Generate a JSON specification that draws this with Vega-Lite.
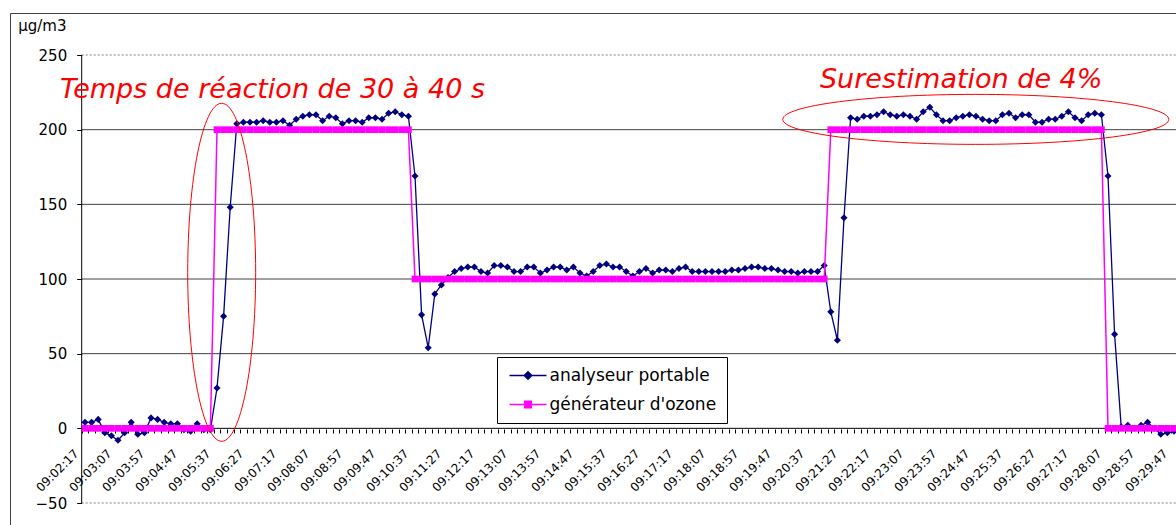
{
  "$schema": "https://vega.github.io/schema/vega-lite/v6.json",
  "width": 1166,
  "height": 512,
  "autosize": {"type": "none"},
  "padding": {"left": 10, "top": 13, "right": 0, "bottom": 0},
  "background": "white",
  "config": {"view": {"stroke": "#404040", "strokeWidth": 1}, "font": "DejaVu Sans"},
  "resolve": {"axis": {"x": "independent", "y": "independent"}},
  "datasets": {
    "mesures": [
      {"i":0,"analyseur":4,"generateur":0},{"i":1,"analyseur":4,"generateur":0},{"i":2,"analyseur":6,"generateur":0},{"i":3,"analyseur":-3,"generateur":0},{"i":4,"analyseur":-5,"generateur":0},
      {"i":5,"analyseur":-8,"generateur":0},{"i":6,"analyseur":-3,"generateur":0},{"i":7,"analyseur":4,"generateur":0},{"i":8,"analyseur":-4,"generateur":0},{"i":9,"analyseur":-3,"generateur":0},
      {"i":10,"analyseur":7,"generateur":0},{"i":11,"analyseur":6,"generateur":0},{"i":12,"analyseur":4,"generateur":0},{"i":13,"analyseur":3,"generateur":0},{"i":14,"analyseur":3,"generateur":0},
      {"i":15,"analyseur":-1,"generateur":0},{"i":16,"analyseur":-2,"generateur":0},{"i":17,"analyseur":3,"generateur":0},{"i":18,"analyseur":-1,"generateur":0},{"i":19,"analyseur":-1,"generateur":0},
      {"i":20,"analyseur":27,"generateur":200},{"i":21,"analyseur":75,"generateur":200},{"i":22,"analyseur":148,"generateur":200},{"i":23,"analyseur":204,"generateur":200},{"i":24,"analyseur":205,"generateur":200},
      {"i":25,"analyseur":205,"generateur":200},{"i":26,"analyseur":205,"generateur":200},{"i":27,"analyseur":206,"generateur":200},{"i":28,"analyseur":205,"generateur":200},{"i":29,"analyseur":205,"generateur":200},
      {"i":30,"analyseur":206,"generateur":200},{"i":31,"analyseur":203,"generateur":200},{"i":32,"analyseur":207,"generateur":200},{"i":33,"analyseur":209,"generateur":200},{"i":34,"analyseur":210,"generateur":200},
      {"i":35,"analyseur":210,"generateur":200},{"i":36,"analyseur":206,"generateur":200},{"i":37,"analyseur":209,"generateur":200},{"i":38,"analyseur":208,"generateur":200},{"i":39,"analyseur":204,"generateur":200},
      {"i":40,"analyseur":206,"generateur":200},{"i":41,"analyseur":206,"generateur":200},{"i":42,"analyseur":205,"generateur":200},{"i":43,"analyseur":208,"generateur":200},{"i":44,"analyseur":208,"generateur":200},
      {"i":45,"analyseur":207,"generateur":200},{"i":46,"analyseur":211,"generateur":200},{"i":47,"analyseur":212,"generateur":200},{"i":48,"analyseur":210,"generateur":200},{"i":49,"analyseur":209,"generateur":200},
      {"i":50,"analyseur":169,"generateur":100},{"i":51,"analyseur":76,"generateur":100},{"i":52,"analyseur":54,"generateur":100},{"i":53,"analyseur":90,"generateur":100},{"i":54,"analyseur":96,"generateur":100},
      {"i":55,"analyseur":101,"generateur":100},{"i":56,"analyseur":105,"generateur":100},{"i":57,"analyseur":107,"generateur":100},{"i":58,"analyseur":108,"generateur":100},{"i":59,"analyseur":108,"generateur":100},
      {"i":60,"analyseur":105,"generateur":100},{"i":61,"analyseur":104,"generateur":100},{"i":62,"analyseur":109,"generateur":100},{"i":63,"analyseur":109,"generateur":100},{"i":64,"analyseur":108,"generateur":100},
      {"i":65,"analyseur":105,"generateur":100},{"i":66,"analyseur":105,"generateur":100},{"i":67,"analyseur":108,"generateur":100},{"i":68,"analyseur":108,"generateur":100},{"i":69,"analyseur":104,"generateur":100},
      {"i":70,"analyseur":106,"generateur":100},{"i":71,"analyseur":108,"generateur":100},{"i":72,"analyseur":108,"generateur":100},{"i":73,"analyseur":106,"generateur":100},{"i":74,"analyseur":108,"generateur":100},
      {"i":75,"analyseur":104,"generateur":100},{"i":76,"analyseur":102,"generateur":100},{"i":77,"analyseur":105,"generateur":100},{"i":78,"analyseur":109,"generateur":100},{"i":79,"analyseur":110,"generateur":100},
      {"i":80,"analyseur":108,"generateur":100},{"i":81,"analyseur":108,"generateur":100},{"i":82,"analyseur":105,"generateur":100},{"i":83,"analyseur":102,"generateur":100},{"i":84,"analyseur":105,"generateur":100},
      {"i":85,"analyseur":107,"generateur":100},{"i":86,"analyseur":104,"generateur":100},{"i":87,"analyseur":106,"generateur":100},{"i":88,"analyseur":106,"generateur":100},{"i":89,"analyseur":105,"generateur":100},
      {"i":90,"analyseur":107,"generateur":100},{"i":91,"analyseur":108,"generateur":100},{"i":92,"analyseur":105,"generateur":100},{"i":93,"analyseur":105,"generateur":100},{"i":94,"analyseur":105,"generateur":100},
      {"i":95,"analyseur":105,"generateur":100},{"i":96,"analyseur":105,"generateur":100},{"i":97,"analyseur":105,"generateur":100},{"i":98,"analyseur":106,"generateur":100},{"i":99,"analyseur":106,"generateur":100},
      {"i":100,"analyseur":107,"generateur":100},{"i":101,"analyseur":108,"generateur":100},{"i":102,"analyseur":108,"generateur":100},{"i":103,"analyseur":107,"generateur":100},{"i":104,"analyseur":107,"generateur":100},
      {"i":105,"analyseur":106,"generateur":100},{"i":106,"analyseur":105,"generateur":100},{"i":107,"analyseur":105,"generateur":100},{"i":108,"analyseur":104,"generateur":100},{"i":109,"analyseur":105,"generateur":100},
      {"i":110,"analyseur":105,"generateur":100},{"i":111,"analyseur":105,"generateur":100},{"i":112,"analyseur":109,"generateur":100},{"i":113,"analyseur":78,"generateur":200},{"i":114,"analyseur":59,"generateur":200},
      {"i":115,"analyseur":141,"generateur":200},{"i":116,"analyseur":208,"generateur":200},{"i":117,"analyseur":207,"generateur":200},{"i":118,"analyseur":209,"generateur":200},{"i":119,"analyseur":209,"generateur":200},
      {"i":120,"analyseur":210,"generateur":200},{"i":121,"analyseur":212,"generateur":200},{"i":122,"analyseur":210,"generateur":200},{"i":123,"analyseur":209,"generateur":200},{"i":124,"analyseur":210,"generateur":200},
      {"i":125,"analyseur":209,"generateur":200},{"i":126,"analyseur":207,"generateur":200},{"i":127,"analyseur":212,"generateur":200},{"i":128,"analyseur":215,"generateur":200},{"i":129,"analyseur":210,"generateur":200},
      {"i":130,"analyseur":206,"generateur":200},{"i":131,"analyseur":206,"generateur":200},{"i":132,"analyseur":208,"generateur":200},{"i":133,"analyseur":209,"generateur":200},{"i":134,"analyseur":210,"generateur":200},
      {"i":135,"analyseur":209,"generateur":200},{"i":136,"analyseur":207,"generateur":200},{"i":137,"analyseur":206,"generateur":200},{"i":138,"analyseur":206,"generateur":200},{"i":139,"analyseur":210,"generateur":200},
      {"i":140,"analyseur":211,"generateur":200},{"i":141,"analyseur":208,"generateur":200},{"i":142,"analyseur":210,"generateur":200},{"i":143,"analyseur":210,"generateur":200},{"i":144,"analyseur":205,"generateur":200},
      {"i":145,"analyseur":205,"generateur":200},{"i":146,"analyseur":207,"generateur":200},{"i":147,"analyseur":207,"generateur":200},{"i":148,"analyseur":209,"generateur":200},{"i":149,"analyseur":212,"generateur":200},
      {"i":150,"analyseur":208,"generateur":200},{"i":151,"analyseur":206,"generateur":200},{"i":152,"analyseur":210,"generateur":200},{"i":153,"analyseur":211,"generateur":200},{"i":154,"analyseur":210,"generateur":200},
      {"i":155,"analyseur":169,"generateur":0},{"i":156,"analyseur":63,"generateur":0},{"i":157,"analyseur":1,"generateur":0},{"i":158,"analyseur":2,"generateur":0},{"i":159,"analyseur":0,"generateur":0},
      {"i":160,"analyseur":2,"generateur":0},{"i":161,"analyseur":4,"generateur":0},{"i":162,"analyseur":0,"generateur":0},{"i":163,"analyseur":-4,"generateur":0},{"i":164,"analyseur":-3,"generateur":0},
      {"i":165,"analyseur":-2,"generateur":0}
    ]
  },
  "layer": [
    {
      "data": {"values": [{"g": 200}, {"g": 150}, {"g": 100}, {"g": 50}]},
      "mark": {"type": "rule", "color": "#404040", "strokeWidth": 1},
      "encoding": {
        "y": {"field": "g", "type": "quantitative", "scale": {"domain": [-64.73, 278.13], "nice": false, "zero": false}, "axis": null},
        "x": {"datum": -0.5, "type": "quantitative", "scale": {"domain": [-11.364, 165.303], "nice": false, "zero": false}, "axis": null},
        "x2": {"datum": 170}
      }
    },
    {
      "data": {"values": [{"g": 250}, {"g": -50}]},
      "mark": {"type": "rule", "color": "#808080", "strokeWidth": 1, "strokeDash": [2, 2]},
      "encoding": {
        "y": {"field": "g", "type": "quantitative", "scale": {"domain": [-64.73, 278.13], "nice": false, "zero": false}, "axis": null},
        "x": {"datum": -0.5, "type": "quantitative", "scale": {"domain": [-11.364, 165.303], "nice": false, "zero": false}, "axis": null},
        "x2": {"datum": 170}
      }
    },
    {
      "data": {"values": [{"g": 0}]},
      "mark": {"type": "rule", "color": "#000000", "strokeWidth": 1},
      "encoding": {
        "y": {"field": "g", "type": "quantitative", "scale": {"domain": [-64.73, 278.13], "nice": false, "zero": false}, "axis": null},
        "x": {
          "datum": -0.5, "type": "quantitative", "scale": {"domain": [-11.364, 165.303], "nice": false, "zero": false},
          "axis": {
            "orient": "bottom", "offset": -96, "title": null, "domain": false, "grid": false, "labels": false,
            "values": [-0.5,0.5,1.5,2.5,3.5,4.5,5.5,6.5,7.5,8.5,9.5,10.5,11.5,12.5,13.5,14.5,15.5,16.5,17.5,18.5,19.5,20.5,21.5,22.5,23.5,24.5,25.5,26.5,27.5,28.5,29.5,30.5,31.5,32.5,33.5,34.5,35.5,36.5,37.5,38.5,39.5,40.5,41.5,42.5,43.5,44.5,45.5,46.5,47.5,48.5,49.5,50.5,51.5,52.5,53.5,54.5,55.5,56.5,57.5,58.5,59.5,60.5,61.5,62.5,63.5,64.5,65.5,66.5,67.5,68.5,69.5,70.5,71.5,72.5,73.5,74.5,75.5,76.5,77.5,78.5,79.5,80.5,81.5,82.5,83.5,84.5,85.5,86.5,87.5,88.5,89.5,90.5,91.5,92.5,93.5,94.5,95.5,96.5,97.5,98.5,99.5,100.5,101.5,102.5,103.5,104.5,105.5,106.5,107.5,108.5,109.5,110.5,111.5,112.5,113.5,114.5,115.5,116.5,117.5,118.5,119.5,120.5,121.5,122.5,123.5,124.5,125.5,126.5,127.5,128.5,129.5,130.5,131.5,132.5,133.5,134.5,135.5,136.5,137.5,138.5,139.5,140.5,141.5,142.5,143.5,144.5,145.5,146.5,147.5,148.5,149.5,150.5,151.5,152.5,153.5,154.5,155.5,156.5,157.5,158.5,159.5,160.5,161.5,162.5,163.5,164.5,165.5],
            "tickSize": 4, "tickColor": "#000000", "tickWidth": 1
          }
        },
        "x2": {"datum": 170}
      }
    },
    {
      "data": {"values": [{"lo": -50, "hi": 250}]},
      "mark": {"type": "rule", "color": "#000000", "strokeWidth": 1},
      "encoding": {
        "y": {"field": "lo", "type": "quantitative", "scale": {"domain": [-64.73, 278.13], "nice": false, "zero": false}, "axis": null},
        "y2": {"field": "hi"},
        "x": {"datum": -0.5, "type": "quantitative", "scale": {"domain": [-11.364, 165.303], "nice": false, "zero": false}, "axis": null}
      }
    },
    {
      "data": {"name": "mesures"},
      "mark": {"type": "line", "strokeWidth": 1.3},
      "encoding": {
        "x": {
          "field": "i", "type": "quantitative",
          "scale": {"domain": [-11.364, 165.303], "nice": false, "zero": false},
          "axis": {
            "orient": "bottom", "offset": -96, "title": null, "domain": false, "grid": false, "ticks": false,
            "values": [0,5,10,15,20,25,30,35,40,45,50,55,60,65,70,75,80,85,90,95,100,105,110,115,120,125,130,135,140,145,150,155,160,165],
            "labelExpr": "'09:' + (floor((137 + datum.value * 10) / 60) < 10 ? '0' : '') + floor((137 + datum.value * 10) / 60) + ':' + ((137 + datum.value * 10) % 60 < 10 ? '0' : '') + ((137 + datum.value * 10) % 60)",
            "labelAngle": -45, "labelAlign": "right", "labelBaseline": "middle",
            "labelPadding": 22, "labelOffset": -9,
            "labelFont": "DejaVu Sans", "labelFontSize": 12, "labelColor": "#000000",
            "labelOverlap": false, "labelBound": false, "labelFlush": false
          }
        },
        "y": {
          "field": "analyseur", "type": "quantitative",
          "scale": {"domain": [-64.73, 278.13], "nice": false, "zero": false},
          "axis": {
            "orient": "left", "offset": -71.7, "domain": false, "grid": false,
            "values": [-50, 0, 50, 100, 150, 200, 250],
            "tickSize": 5, "tickColor": "#000000",
            "labelFont": "DejaVu Sans", "labelFontSize": 15, "labelColor": "#000000", "labelPadding": 10,
            "labelOverlap": false, "labelBound": false, "labelFlush": false,
            "title": "µg/m3", "titleAngle": 0, "titleAlign": "left", "titleBaseline": "alphabetic",
            "titleX": -64, "titleY": 17, "titleFont": "DejaVu Sans", "titleFontSize": 15,
            "titleFontWeight": "normal", "titleColor": "#000000"
          }
        },
        "color": {
          "datum": "analyseur portable", "type": "nominal",
          "scale": {"domain": ["analyseur portable", "générateur d'ozone"], "range": ["#000080", "#ff00ff"]},
          "legend": {
            "title": null, "orient": "none", "legendX": 487, "legendY": 344, "direction": "vertical",
            "fillColor": "#ffffff", "strokeColor": "#000000", "padding": 10, "cornerRadius": 0,
            "labelFont": "DejaVu Sans", "labelFontSize": 17, "labelColor": "#000000", "labelLimit": 0,
            "symbolSize": 100, "symbolOffset": 12.5, "labelOffset": 13, "rowPadding": 11,
            "symbolStrokeWidth": 1.5,
            "encode": {
              "symbols": {
                "update": {
                  "shape": {"signal": "datum.value == 'analyseur portable' ? 'M-3.7,0L3.7,0M0,-0.75L0.75,0L0,0.75L-0.75,0Z' : 'M-3.7,0L3.7,0M-0.65,-0.65L0.65,-0.65L0.65,0.65L-0.65,0.65Z'"},
                  "fill": {"signal": "scale('color', datum.value)"},
                  "stroke": {"signal": "scale('color', datum.value)"},
                  "opacity": {"value": 1},
                  "fillOpacity": {"value": 1},
                  "strokeOpacity": {"value": 1}
                }
              }
            }
          }
        }
      }
    },
    {
      "data": {"name": "mesures"},
      "mark": {"type": "point", "shape": "diamond", "filled": true, "size": 50, "opacity": 1},
      "encoding": {
        "x": {"field": "i", "type": "quantitative", "scale": {"domain": [-11.364, 165.303], "nice": false, "zero": false}, "axis": null},
        "y": {"field": "analyseur", "type": "quantitative", "scale": {"domain": [-64.73, 278.13], "nice": false, "zero": false}, "axis": null},
        "color": {"datum": "analyseur portable", "type": "nominal"}
      }
    },
    {
      "data": {"name": "mesures"},
      "mark": {"type": "line", "strokeWidth": 1.5},
      "encoding": {
        "x": {"field": "i", "type": "quantitative", "scale": {"domain": [-11.364, 165.303], "nice": false, "zero": false}, "axis": null},
        "y": {"field": "generateur", "type": "quantitative", "scale": {"domain": [-64.73, 278.13], "nice": false, "zero": false}, "axis": null},
        "color": {"datum": "générateur d'ozone", "type": "nominal"}
      }
    },
    {
      "data": {"name": "mesures"},
      "mark": {"type": "point", "shape": "square", "filled": true, "size": 45, "opacity": 1},
      "encoding": {
        "x": {"field": "i", "type": "quantitative", "scale": {"domain": [-11.364, 165.303], "nice": false, "zero": false}, "axis": null},
        "y": {"field": "generateur", "type": "quantitative", "scale": {"domain": [-64.73, 278.13], "nice": false, "zero": false}, "axis": null},
        "color": {"datum": "générateur d'ozone", "type": "nominal"}
      }
    },
    {
      "data": {"values": [{"note": "réaction"}]},
      "mark": {"type": "point", "filled": false, "stroke": "#ff0000", "strokeWidth": 1, "opacity": 1, "size": 114244,
        "shape": "M0,-1C0.111,-1 0.201,-0.552 0.201,0C0.201,0.552 0.111,1 0,1C-0.111,1 -0.201,0.552 -0.201,0C-0.201,-0.552 -0.111,-1 0,-1Z"},
      "encoding": {
        "x": {"datum": 20.71, "type": "quantitative", "scale": {"domain": [-11.364, 165.303], "nice": false, "zero": false}, "axis": null},
        "y": {"datum": 104.5, "type": "quantitative", "scale": {"domain": [-64.73, 278.13], "nice": false, "zero": false}, "axis": null}
      }
    },
    {
      "data": {"values": [{"note": "surestimation"}]},
      "mark": {"type": "point", "filled": false, "stroke": "#ff0000", "strokeWidth": 1, "opacity": 1, "size": 148996,
        "shape": "M-1,0C-1,-0.0715 -0.552,-0.1295 0,-0.1295C0.552,-0.1295 1,-0.0715 1,0C1,0.0715 0.552,0.1295 0,0.1295C-0.552,0.1295 -1,0.0715 -1,0Z"},
      "encoding": {
        "x": {"datum": 134.97, "type": "quantitative", "scale": {"domain": [-11.364, 165.303], "nice": false, "zero": false}, "axis": null},
        "y": {"datum": 206.9, "type": "quantitative", "scale": {"domain": [-64.73, 278.13], "nice": false, "zero": false}, "axis": null}
      }
    },
    {
      "data": {"values": [{"note": "Temps de réaction de 30 à 40 s"}]},
      "mark": {"type": "text", "font": "DejaVu Sans", "fontStyle": "italic", "fontSize": 27, "color": "#ff0000", "align": "left", "baseline": "alphabetic"},
      "encoding": {
        "text": {"field": "note"},
        "x": {"datum": -3.79, "type": "quantitative", "scale": {"domain": [-11.364, 165.303], "nice": false, "zero": false}, "axis": null},
        "y": {"datum": 221.5, "type": "quantitative", "scale": {"domain": [-64.73, 278.13], "nice": false, "zero": false}, "axis": null}
      }
    },
    {
      "data": {"values": [{"note": "Surestimation de 4%"}]},
      "mark": {"type": "text", "font": "DejaVu Sans", "fontStyle": "italic", "fontSize": 27, "color": "#ff0000", "align": "left", "baseline": "alphabetic"},
      "encoding": {
        "text": {"field": "note"},
        "x": {"datum": 111.36, "type": "quantitative", "scale": {"domain": [-11.364, 165.303], "nice": false, "zero": false}, "axis": null},
        "y": {"datum": 228.2, "type": "quantitative", "scale": {"domain": [-64.73, 278.13], "nice": false, "zero": false}, "axis": null}
      }
    }
  ]
}
